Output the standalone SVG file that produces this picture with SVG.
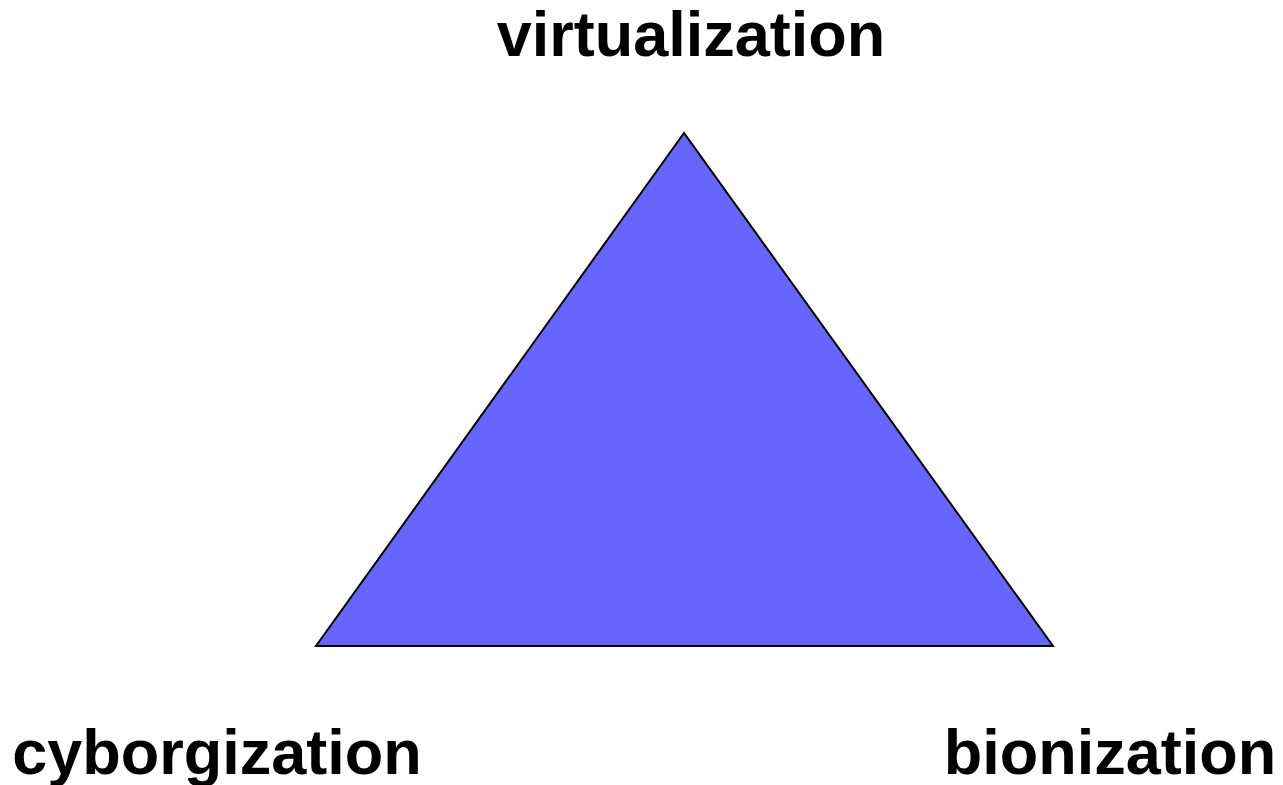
<svg xmlns="http://www.w3.org/2000/svg" width="1283" height="785" viewBox="0 0 1283 785">
<style>
.lbl{font-family:"Liberation Sans",Arial,sans-serif;font-weight:bold;font-size:63px;fill:#000}
.tri{fill:#6666FF;stroke:#000;stroke-width:2;stroke-linejoin:miter}
</style>
<rect width="1283" height="785" fill="#fff"/>
<g id="triangle">
<polygon class="tri" points="684,133 316,646 1053,646"/>
</g>
<g id="connectors"></g>
<g id="virtualization"><text class="lbl" x="691" y="56" text-anchor="middle">virtualization</text></g>
<g id="cyborgization"><text class="lbl" x="217" y="774" text-anchor="middle">cyborgization</text></g>
<g id="bionization"><text class="lbl" x="1110" y="774" text-anchor="middle">bionization</text></g>
</svg>
